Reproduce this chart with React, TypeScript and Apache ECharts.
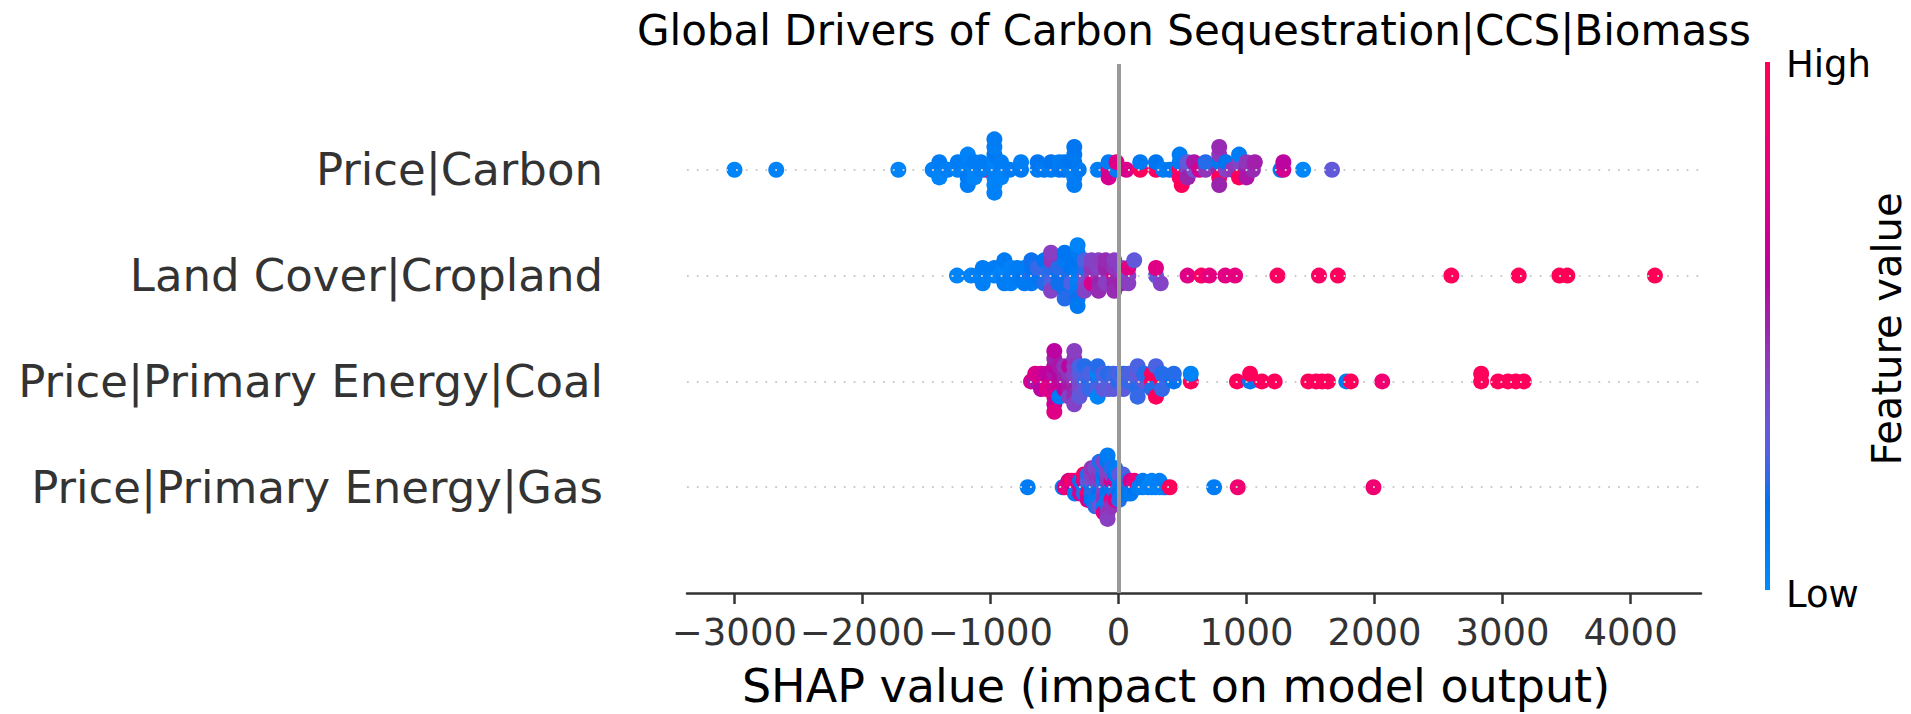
import React, { useEffect, useRef } from "react";
import * as echarts from "echarts";

// Features, bottom row first (SHAP draws the most important feature on top)
const features = [
  "Price|Primary Energy|Gas",
  "Price|Primary Energy|Coal",
  "Land Cover|Cropland",
  "Price|Carbon",
];
const xTicks = [-3000, -2000, -1000, 0, 1000, 2000, 3000, 4000];
const titleText = "Global Drivers of Carbon Sequestration|CCS|Biomass";
const xName = "SHAP value (impact on model output)";
const cbHigh = "High";
const cbLow = "Low";
const cbName = "Feature value";

// [SHAP value, normalised feature value 0..1]
const carbon: [number, number][] = [
  [-2999, 0.04], [-2673, 0.06], [-1719, 0.05],
  [-1451, 0.08], [-1399, 0.06], [-1399, 0.1], [-1399, 0.05], [-1334, 0.08],
  [-1255, 0.06], [-1255, 0.1], [-1177, 0.05], [-1177, 0.08], [-1177, 0.12], [-1177, 0.06], [-1177, 0.1],
  [-1125, 0.07], [-1125, 0.1], [-1125, 0.05],
  [-1042, 0.95], [-1075, 0.08], [-1075, 0.1],
  [-969, 0.1], [-969, 0.06], [-969, 0.08], [-969, 0.12], [-969, 0.05], [-969, 0.09], [-969, 0.07], [-969, 0.1],
  [-917, 0.08], [-917, 0.1], [-917, 0.06],
  [-850, 0.1],
  [-761, 0.12], [-761, 0.08],
  [-631, 0.1], [-631, 0.14], [-579, 0.12], [-527, 0.1], [-527, 0.15],
  [-462, 0.12], [-462, 0.1], [-423, 0.15], [-423, 0.12],
  [-380, 0.1], [-380, 0.14], [-345, 0.1], [-345, 0.15], [-345, 0.08], [-345, 0.12], [-345, 0.1], [-345, 0.14], [-310, 0.12],
  [-162, 0.1],
  [-77, 0.8], [-77, 0.1], [-77, 0.7],
  [-15, 0.1], [-15, 0.75],
  [62, 0.72],
  [170, 0.95], [170, 0.12],
  [293, 0.92], [293, 0.15],
  [350, 0.1], [400, 0.12],
  [478, 0.95], [478, 0.12], [478, 0.92], [478, 0.1], [494, 0.95],
  [540, 0.4], [540, 0.3], [540, 0.5], [590, 0.35], [590, 0.55], [633, 0.7], [680, 0.45], [680, 0.2],
  [787, 0.5], [787, 0.12], [787, 0.95], [787, 0.45], [787, 0.5], [787, 0.48],
  [840, 0.4], [840, 0.15], [890, 0.45],
  [942, 0.45], [942, 0.4], [942, 0.95], [942, 0.1],
  [1000, 0.5], [1000, 0.45], [1000, 0.55], [1050, 0.48], [1065, 0.52],
  [1266, 0.12], [1288, 0.7], [1288, 0.6],
  [1442, 0.02],
  [1668, 0.3],
];

const landCover: [number, number][] = [
  [-1261, 0.05], [-1151, 0.06], [-1100, 0.08],
  [-1060, 0.05], [-1060, 0.1], [-1060, 0.08],
  [-969, 0.07], [-969, 0.1], [-930, 0.06],
  [-891, 0.08], [-891, 0.05], [-891, 0.1], [-891, 0.12],
  [-840, 0.1], [-840, 0.07], [-840, 0.09],
  [-790, 0.12], [-790, 0.1],
  [-735, 0.15], [-735, 0.1], [-735, 0.12],
  [-680, 0.2], [-680, 0.14], [-680, 0.12], [-680, 0.18],
  [-631, 0.15], [-631, 0.22],
  [-580, 0.2], [-580, 0.15],
  [-527, 0.22], [-527, 0.2], [-527, 0.25], [-527, 0.45], [-527, 0.4], [-527, 0.42],
  [-470, 0.15], [-470, 0.2], [-470, 0.18],
  [-420, 0.12], [-420, 0.18], [-420, 0.15], [-420, 0.2],
  [-370, 0.2], [-370, 0.15], [-370, 0.25],
  [-319, 0.1], [-319, 0.12], [-319, 0.08], [-319, 0.15], [-319, 0.1], [-319, 0.12], [-319, 0.18], [-319, 0.05], [-319, 0.12],
  [-265, 0.3], [-265, 0.2], [-265, 0.35], [-265, 0.25], [-265, 0.4],
  [-210, 0.42], [-210, 0.45], [-210, 0.72], [-210, 0.4],
  [-155, 0.45], [-155, 0.4], [-155, 0.5], [-155, 0.42], [-155, 0.48],
  [-100, 0.45], [-100, 0.5], [-100, 0.42], [-100, 0.48],
  [-33, 0.75], [-33, 0.45], [-33, 0.5], [-33, 0.42], [-33, 0.48],
  [25, 0.45], [25, 0.4], [25, 0.5],
  [77, 0.38], [77, 0.75], [77, 0.42],
  [123, 0.3],
  [293, 0.3], [293, 0.75], [330, 0.4],
  [540, 0.75], [648, 0.9], [710, 0.78], [834, 0.76], [911, 0.78],
  [1242, 0.93], [1566, 0.92], [1714, 0.94], [2600, 0.96], [3126, 0.96], [3444, 0.97], [3506, 0.97], [4190, 0.97],
];

const coal: [number, number][] = [
  [-683, 0.7], [-650, 0.55], [-650, 0.72],
  [-605, 0.75], [-605, 0.68], [-605, 0.6],
  [-560, 0.7], [-560, 0.62], [-560, 0.75],
  [-501, 0.7], [-501, 0.55], [-501, 0.68], [-501, 0.6], [-501, 0.72], [-501, 0.5], [-501, 0.65], [-501, 0.6], [-501, 0.75],
  [-462, 0.62], [-462, 0.58], [-462, 0.66], [-462, 0.55], [-462, 0.1],
  [-423, 0.55], [-423, 0.5], [-423, 0.6], [-423, 0.45],
  [-385, 0.5], [-385, 0.45], [-385, 0.55], [-385, 0.6], [-385, 0.4],
  [-345, 0.45], [-345, 0.4], [-345, 0.5], [-345, 0.42], [-345, 0.48], [-345, 0.45], [-345, 0.4], [-345, 0.42],
  [-305, 0.35], [-305, 0.3], [-305, 0.38], [-305, 0.25], [-305, 0.3],
  [-265, 0.22], [-265, 0.25], [-265, 0.3], [-265, 0.2],
  [-225, 0.2], [-225, 0.25], [-225, 0.22],
  [-162, 0.2], [-162, 0.05], [-162, 0.25], [-162, 0.2], [-162, 0.05],
  [-120, 0.22], [-120, 0.25], [-120, 0.3],
  [-80, 0.25], [-80, 0.2], [-80, 0.28],
  [-40, 0.25], [-40, 0.22], [-40, 0.3],
  [0, 0.2], [0, 0.25],
  [40, 0.25], [40, 0.2], [40, 0.28],
  [80, 0.22], [80, 0.25],
  [150, 0.25], [150, 0.3], [150, 0.2], [150, 0.25], [150, 0.22],
  [200, 0.3], [200, 0.2],
  [262, 0.95], [262, 0.95], [262, 0.2],
  [293, 0.25], [293, 0.95],
  [340, 0.95], [340, 0.2], [340, 0.22],
  [432, 0.15], [432, 0.2],
  [565, 0.96], [565, 0.05],
  [926, 0.95], [1028, 0.12], [1028, 0.95], [1120, 0.95], [1220, 0.95],
  [1483, 0.95], [1544, 0.95], [1590, 0.95], [1636, 0.95],
  [1780, 0.1], [1815, 0.95],
  [2060, 0.85],
  [2833, 0.95], [2833, 0.96],
  [2965, 0.95], [3042, 0.95], [3104, 0.95], [3166, 0.95],
];

const gas: [number, number][] = [
  [-709, 0.1],
  [-436, 0.08], [-420, 0.75],
  [-390, 0.85], [-390, 0.7],
  [-365, 0.72], [-365, 0.9],
  [-340, 0.65], [-340, 0.8], [-340, 0.1],
  [-300, 0.7], [-300, 0.15], [-300, 0.72],
  [-270, 0.1], [-270, 0.75], [-270, 0.2], [-270, 0.92],
  [-240, 0.15], [-240, 0.3], [-240, 0.9], [-240, 0.2], [-240, 0.7],
  [-210, 0.1], [-210, 0.35], [-210, 0.2], [-210, 0.4], [-210, 0.15], [-210, 0.45],
  [-180, 0.15], [-180, 0.4], [-180, 0.2], [-180, 0.45], [-180, 0.1], [-180, 0.38], [-180, 0.2],
  [-150, 0.2], [-150, 0.42], [-150, 0.15], [-150, 0.45], [-150, 0.1], [-150, 0.4], [-150, 0.3], [-150, 0.2],
  [-115, 0.25], [-115, 0.1], [-115, 0.4], [-115, 0.15], [-115, 0.45], [-115, 0.2], [-115, 0.1], [-115, 0.4], [-115, 0.75],
  [-85, 0.2], [-85, 0.45], [-85, 0.15], [-85, 0.42], [-85, 0.1], [-85, 0.4], [-85, 0.2], [-85, 0.15], [-85, 0.45], [-85, 0.1], [-85, 0.42],
  [-55, 0.2], [-55, 0.7], [-55, 0.15], [-55, 0.4], [-55, 0.8], [-55, 0.2], [-55, 0.45],
  [-25, 0.15], [-25, 0.7], [-25, 0.2], [-25, 0.15], [-25, 0.75], [-25, 0.1],
  [5, 0.2], [5, 0.1], [5, 0.15], [5, 0.3], [5, 0.2],
  [35, 0.15], [35, 0.2], [35, 0.1], [35, 0.25],
  [65, 0.1], [65, 0.2], [65, 0.15],
  [95, 0.2], [95, 0.7], [95, 0.12],
  [125, 0.15], [125, 0.8],
  [160, 0.1], [190, 0.08], [190, 0.12],
  [231, 0.05], [260, 0.08], [260, 0.05], [290, 0.06], [320, 0.05], [320, 0.08], [350, 0.06], [370, 0.1],
  [401, 0.95],
  [747, 0.1], [932, 0.85], [1992, 0.85],
];

const rows = [gas, coal, landCover, carbon];

// SHAP beeswarm layout: quantise into 100 bins, stack alternately within a bin
function beeswarm(vals: number[]): number[] {
  const n = vals.length;
  const mn = Math.min(...vals);
  const mx = Math.max(...vals);
  const quant = vals.map((v) => Math.round((100 * (v - mn)) / (mx - mn + 1e-8)));
  const inds = vals.map((_, i) => i).sort((a, b) => quant[a] - quant[b]);
  const ys = new Array(n).fill(0);
  let layer = 0;
  let last = -1;
  for (const ind of inds) {
    if (quant[ind] !== last) layer = 0;
    ys[ind] = Math.ceil(layer / 2) * ((layer % 2) * 2 - 1);
    layer++;
    last = quant[ind];
  }
  const m = Math.max(...ys.map((y) => y + 1));
  return ys.map((y) => (y * 0.9 * 0.4) / m);
}

// SHAP red_blue colour map (LCH interpolation)
function lchToHex(l: number, c: number, h: number): string {
  const a = c * Math.cos(h);
  const b = c * Math.sin(h);
  const fy = (l + 16) / 116;
  const fx = fy + a / 500;
  const fz = fy - b / 200;
  const finv = (t: number) => (t > 0.2068966 ? t * t * t : (t - 16 / 116) / 7.787);
  const X = 0.95047 * finv(fx);
  const Y = finv(fy);
  const Z = 1.08883 * finv(fz);
  const lin = [
    3.2406 * X - 1.5372 * Y - 0.4986 * Z,
    -0.9689 * X + 1.8758 * Y + 0.0415 * Z,
    0.0557 * X - 0.204 * Y + 1.057 * Z,
  ];
  const g = lin.map((v) => {
    const s = v > 0.0031308 ? 1.055 * Math.pow(v, 1 / 2.4) - 0.055 : 12.92 * v;
    return Math.round(Math.min(1, Math.max(0, s)) * 255);
  });
  return "#" + g.map((v) => v.toString(16).padStart(2, "0")).join("");
}
const colorStops: string[] = [];
for (let i = 0; i <= 24; i++) {
  const p = i / 24;
  const l = p <= 0.5 ? 54 - 28 * p : 40 + 28 * (p - 0.5);
  const c = 70 + 20 * p;
  const h = 4.6588 + (0.35470565 + 2 * Math.PI - 4.6588) * p;
  colorStops.push(lchToHex(l, c, h));
}

const FONT = "DejaVu Sans";

export default function App() {
  const ref = useRef<HTMLDivElement>(null);
  useEffect(() => {
    document.body.style.margin = "0";
    if (!ref.current) return;
    const chart = echarts.init(ref.current, null, { renderer: "svg" });

    const points: number[][] = [];
    rows.forEach((row, r) => {
      const ys = beeswarm(row.map((d) => d[0]));
      row.forEach((d, i) => points.push([d[0], r + ys[i], d[1]]));
    });

    const gradStops = colorStops.map((c, i) => ({ offset: i / (colorStops.length - 1), color: c }));

    chart.setOption({
      animation: false,
      grid: { left: 687, right: 210, top: 64, bottom: 121, outerBoundsMode: "none" },
      xAxis: {
        type: "value",
        min: -3370,
        max: 4550,
        splitLine: { show: false },
        axisLine: { show: true, onZero: false, lineStyle: { color: "#333333", width: 2.5 } },
        axisTick: { show: true, length: 11, customValues: xTicks, lineStyle: { color: "#333333", width: 2.5 } },
        axisLabel: {
          customValues: xTicks,
          formatter: (v: number) => (v < 0 ? "\u2212" + Math.abs(v) : String(v)),
          fontSize: 37,
          color: "#333333",
          margin: 21,
          fontFamily: FONT,
        },
      },
      yAxis: {
        type: "value",
        min: -1,
        max: 4,
        interval: 1,
        splitLine: { show: false },
        axisLine: { show: false },
        axisTick: { show: false },
        axisLabel: {
          formatter: (v: number) => (Number.isInteger(v) && features[v] ? features[v] : ""),
          fontSize: 45,
          color: "#333333",
          margin: 84,
          fontFamily: FONT,
        },
      },
      visualMap: {
        type: "continuous",
        show: false,
        dimension: 2,
        min: 0,
        max: 1,
        seriesIndex: 0,
        inRange: { color: colorStops },
      },
      series: [
        {
          type: "scatter",
          z: 3,
          symbolSize: 16,
          itemStyle: { opacity: 1 },
          data: points,
        },
        {
          type: "line",
          z: 1,
          data: [],
          markLine: {
            silent: true,
            symbol: ["none", "none"],
            label: { show: false },
            lineStyle: { color: "#cccccc", width: 1.8, type: [1.8, 8] },
            data: features.map((_, i) => ({ yAxis: i })),
          },
        },
        {
          type: "line",
          z: 5,
          data: [],
          markLine: {
            silent: true,
            symbol: ["none", "none"],
            label: { show: false },
            lineStyle: { color: "#999999", width: 4, type: "solid" },
            data: [{ xAxis: 0 }],
          },
        },
      ],
      graphic: [
        {
          type: "text",
          x: 1194,
          y: 30,
          style: { text: titleText, fontSize: 42, fontFamily: FONT, fill: "#000000", align: "center", verticalAlign: "middle" },
        },
        {
          type: "text",
          x: 1176,
          y: 686,
          style: { text: xName, fontSize: 46, fontFamily: FONT, fill: "#000000", align: "center", verticalAlign: "middle" },
        },
        {
          type: "rect",
          shape: { x: 1765, y: 62, width: 5, height: 528 },
          style: { fill: new echarts.graphic.LinearGradient(0, 1, 0, 0, gradStops) },
        },
        {
          type: "text",
          x: 1786,
          y: 64,
          style: { text: cbHigh, fontSize: 37, fontFamily: FONT, fill: "#000000", align: "left", verticalAlign: "middle" },
        },
        {
          type: "text",
          x: 1786,
          y: 594,
          style: { text: cbLow, fontSize: 37, fontFamily: FONT, fill: "#000000", align: "left", verticalAlign: "middle" },
        },
        {
          type: "text",
          x: 1887,
          y: 329,
          rotation: Math.PI / 2,
          style: { text: cbName, fontSize: 40, fontFamily: FONT, fill: "#000000", align: "center", verticalAlign: "middle" },
        },
      ],
    });
    return () => chart.dispose();
  }, []);
  return <div ref={ref} style={{ width: 1911, height: 714 }} />;
}
